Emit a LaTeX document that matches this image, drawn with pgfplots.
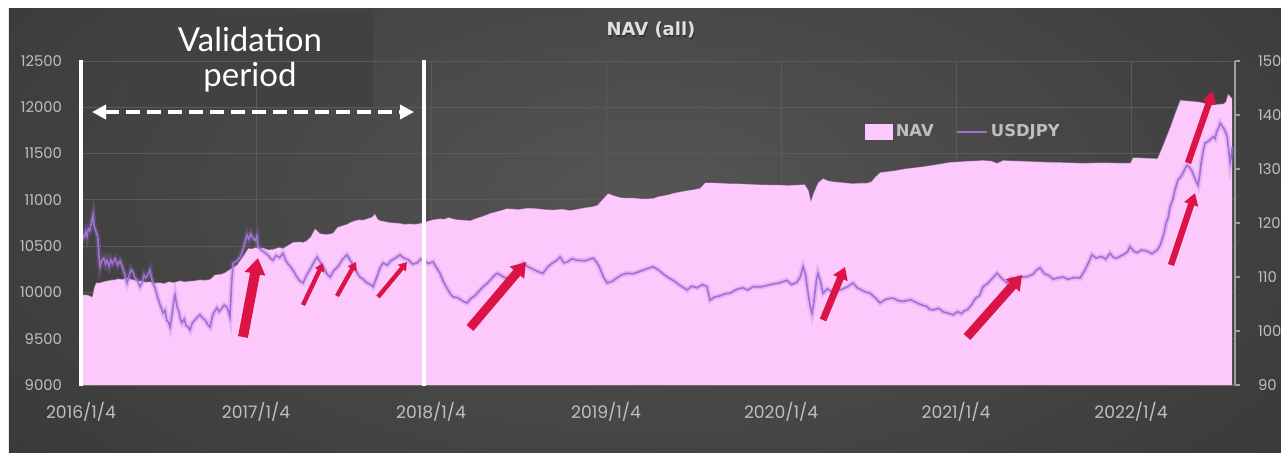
\documentclass[border=0pt]{standalone}
\usepackage{pgfplots}
\pgfplotsset{compat=1.18}
\usepackage{pgfplotstable}
\usepackage{fontspec}
\setmainfont{Poppins}
\newfontfamily\dejavu{DejaVu Sans}
\newfontfamily\lato{Lato}
\usetikzlibrary{arrows.meta}
\definecolor{pinkc}{HTML}{FDC9FD}
\definecolor{jpyc}{HTML}{A070D8}
\definecolor{redc}{HTML}{DC1446}
\definecolor{boxc}{HTML}{414141}
\definecolor{gridc}{HTML}{5A5A5A}
\definecolor{tickc}{HTML}{BFBFBF}
\definecolor{bgout}{HTML}{272727}
\definecolor{bgin}{HTML}{555555}

\pgfplotstableread{
t v
0.000 9980
0.040 9975
0.063 9955
0.075 10060
0.086 10110
0.100 10105
0.120 10115
0.140 10125
0.166 10135
0.190 10140
0.210 10150
0.235 10145
0.263 10160
0.280 10150
0.300 10140
0.325 10130
0.350 10125
0.372 10115
0.394 10120
0.420 10105
0.450 10110
0.475 10100
0.500 10120
0.530 10110
0.566 10130
0.590 10120
0.620 10125
0.650 10130
0.680 10140
0.710 10135
0.737 10145
0.766 10195
0.800 10200
0.820 10215
0.840 10240
0.869 10275
0.890 10300
0.909 10350
0.935 10420
0.954 10480
0.975 10475
1.000 10490
1.020 10480
1.040 10485
1.070 10465
1.100 10470
1.130 10490
1.154 10480
1.180 10510
1.211 10545
1.250 10550
1.270 10545
1.291 10565
1.310 10600
1.337 10695
1.366 10640
1.400 10630
1.420 10635
1.440 10645
1.463 10705
1.500 10730
1.520 10740
1.537 10760
1.560 10775
1.590 10790
1.610 10785
1.634 10800
1.660 10815
1.680 10855
1.695 10800
1.709 10780
1.735 10770
1.760 10760
1.790 10755
1.823 10750
1.850 10740
1.880 10745
1.910 10740
1.937 10750
1.975 10770
2.011 10790
2.051 10800
2.075 10795
2.100 10815
2.125 10800
2.150 10790
2.190 10785
2.223 10780
2.260 10805
2.300 10830
2.340 10860
2.380 10880
2.410 10895
2.434 10910
2.470 10905
2.500 10900
2.550 10915
2.606 10910
2.650 10900
2.700 10895
2.750 10905
2.794 10890
2.840 10905
2.880 10920
2.920 10930
2.949 10945
2.980 11010
3.011 11075
3.045 11050
3.080 11030
3.115 11025
3.150 11025
3.210 11015
3.269 11020
3.300 11040
3.330 11050
3.355 11060
3.383 11075
3.420 11090
3.450 11100
3.500 11115
3.537 11130
3.566 11190
3.610 11190
3.650 11185
3.700 11180
3.749 11180
3.800 11175
3.850 11170
3.900 11168
3.950 11165
4.000 11165
4.034 11160
4.090 11165
4.137 11170
4.160 11100
4.171 11000
4.185 11080
4.211 11190
4.240 11235
4.270 11210
4.300 11200
4.355 11190
4.411 11180
4.450 11185
4.491 11185
4.515 11200
4.537 11250
4.566 11300
4.610 11310
4.650 11320
4.710 11340
4.777 11355
4.820 11365
4.870 11380
4.920 11395
4.966 11410
5.010 11415
5.050 11420
5.100 11425
5.154 11430
5.200 11425
5.234 11400
5.269 11430
5.330 11425
5.400 11420
5.470 11415
5.537 11410
5.600 11408
5.650 11405
5.690 11402
5.726 11400
5.790 11403
5.850 11405
5.920 11402
5.994 11400
6.011 11460
6.045 11458
6.080 11455
6.115 11452
6.149 11450
6.177 11570
6.200 11680
6.223 11790
6.251 11940
6.280 12080
6.310 12075
6.340 12070
6.370 12065
6.394 12060
6.425 12045
6.451 12025
6.490 12035
6.526 12040
6.540 12060
6.554 12150
6.577 12100
}\navtable

\pgfplotstableread{
t v
0.006 118.3
0.013 117.2
0.020 117.6
0.027 118.4
0.034 117.5
0.042 118.9
0.050 118.6
0.060 120.2
0.069 121.5
0.074 119.6
0.080 119.0
0.088 118.2
0.096 117.4
0.102 114.0
0.109 111.9
0.118 113.0
0.130 113.5
0.140 112.4
0.149 113.1
0.160 112.0
0.170 113.2
0.180 112.5
0.195 113.4
0.210 112.2
0.223 113.0
0.235 112.0
0.245 111.0
0.255 109.8
0.263 108.9
0.275 110.2
0.286 111.4
0.297 110.9
0.310 109.7
0.320 109.5
0.337 108.2
0.350 109.0
0.360 110.4
0.370 109.8
0.385 110.6
0.394 111.3
0.402 110.0
0.411 108.9
0.425 107.8
0.440 106.0
0.455 104.6
0.469 103.3
0.480 103.8
0.490 102.0
0.500 101.6
0.509 100.7
0.520 103.0
0.530 105.5
0.537 106.7
0.548 104.6
0.560 103.5
0.568 102.2
0.577 101.5
0.590 102.2
0.600 101.0
0.612 100.8
0.623 100.2
0.636 101.5
0.650 102.0
0.665 102.6
0.680 103.0
0.695 102.4
0.710 102.0
0.724 101.2
0.737 100.7
0.755 103.2
0.777 104.3
0.790 103.6
0.800 104.0
0.818 104.8
0.834 104.4
0.843 103.6
0.851 102.6
0.860 108.5
0.869 112.6
0.889 112.9
0.909 113.7
0.920 114.6
0.930 115.5
0.940 116.8
0.949 117.8
0.960 117.0
0.970 118.0
0.980 117.3
0.995 116.8
1.006 117.6
1.011 115.6
1.030 115.0
1.050 114.5
1.070 114.0
1.085 113.4
1.097 113.1
1.115 114.0
1.135 113.6
1.154 114.4
1.168 113.2
1.180 112.5
1.195 112.0
1.211 111.3
1.230 110.2
1.250 109.3
1.269 108.9
1.290 110.4
1.310 111.5
1.330 112.7
1.349 113.7
1.370 112.6
1.390 111.5
1.405 110.6
1.423 110.0
1.445 111.2
1.470 112.0
1.495 113.3
1.520 114.1
1.540 113.0
1.560 112.0
1.577 110.8
1.594 110.0
1.612 109.6
1.630 109.0
1.650 108.7
1.669 108.2
1.690 110.0
1.710 111.8
1.726 112.6
1.750 112.2
1.770 113.0
1.800 113.6
1.823 114.1
1.845 113.5
1.870 113.2
1.895 112.4
1.920 112.6
1.940 113.3
1.960 113.0
1.985 112.5
2.011 112.8
2.030 111.8
2.051 110.7
2.070 109.2
2.090 108.0
2.110 106.9
2.126 106.3
2.150 106.2
2.170 105.8
2.190 105.4
2.206 105.2
2.230 106.1
2.250 106.5
2.275 107.4
2.297 108.2
2.320 108.8
2.340 109.5
2.360 110.2
2.377 110.7
2.400 110.3
2.425 109.8
2.451 110.0
2.490 111.3
2.526 112.6
2.555 111.9
2.580 111.5
2.610 111.0
2.640 110.7
2.665 111.8
2.690 112.5
2.715 113.0
2.737 113.7
2.760 112.6
2.780 112.8
2.805 113.4
2.834 113.1
2.880 113.0
2.926 113.5
2.945 112.8
2.960 112.0
2.985 110.0
3.006 108.9
3.035 109.2
3.060 109.8
3.090 110.4
3.120 110.7
3.155 110.6
3.190 111.0
3.230 111.5
3.269 111.9
3.300 111.3
3.330 110.5
3.355 109.9
3.383 109.4
3.420 108.5
3.463 107.6
3.490 108.3
3.520 108.0
3.550 108.6
3.577 108.2
3.594 105.7
3.620 106.3
3.650 106.5
3.680 106.9
3.709 107.0
3.745 107.7
3.780 108.0
3.810 107.6
3.840 108.2
3.890 108.2
3.940 108.6
3.990 108.9
4.034 109.4
4.060 108.6
4.090 109.0
4.110 110.0
4.126 111.9
4.140 110.4
4.150 108.0
4.165 104.8
4.177 103.3
4.187 105.2
4.195 107.5
4.203 109.5
4.211 110.7
4.225 109.2
4.240 107.0
4.265 107.8
4.290 107.3
4.315 107.9
4.337 107.6
4.375 108.1
4.411 108.9
4.435 108.0
4.460 107.6
4.485 107.2
4.509 107.0
4.540 106.1
4.566 105.2
4.600 105.9
4.640 106.1
4.670 105.6
4.700 105.5
4.740 105.8
4.777 105.2
4.805 104.8
4.830 104.6
4.850 104.0
4.869 103.9
4.900 104.2
4.930 103.5
4.955 103.3
4.983 103.0
5.010 103.6
5.030 103.2
5.050 103.8
5.063 103.9
5.090 104.9
5.110 106.0
5.135 106.6
5.154 108.2
5.180 108.8
5.200 109.5
5.220 110.2
5.234 110.7
5.260 109.8
5.291 108.9
5.315 109.8
5.340 109.5
5.360 110.0
5.383 110.0
5.410 110.1
5.440 110.5
5.460 111.3
5.480 111.7
5.505 110.6
5.530 110.3
5.555 109.6
5.577 109.8
5.610 110.0
5.640 109.6
5.675 109.9
5.709 109.8
5.740 111.5
5.777 114.1
5.800 113.5
5.830 113.8
5.855 113.3
5.880 114.4
5.900 113.6
5.920 113.5
5.940 113.9
5.960 114.2
5.980 114.7
5.994 115.6
6.015 114.8
6.034 114.5
6.060 115.0
6.090 114.8
6.120 114.3
6.149 115.0
6.165 115.8
6.177 116.9
6.190 118.3
6.200 120.0
6.212 121.0
6.223 123.0
6.238 124.3
6.250 126.0
6.260 127.2
6.269 128.0
6.285 128.6
6.300 129.5
6.310 130.2
6.320 130.7
6.335 130.3
6.350 129.5
6.365 128.2
6.383 127.0
6.392 128.8
6.400 131.0
6.412 133.3
6.423 134.8
6.445 135.2
6.469 136.0
6.480 135.6
6.490 137.0
6.500 137.6
6.509 138.5
6.520 138.0
6.530 137.5
6.540 136.8
6.549 136.0
6.558 133.5
6.566 131.1
6.572 132.2
6.577 134.0
}\jpytable

\begin{document}
\begin{tikzpicture}
% pixel coordinate scope: (px,py) -> image pixels
\begin{scope}[x=0.5pt,y=-0.5pt,shift={(-40.5pt,192.5pt)}]
  \begin{scope}
    \clip (9,8) rectangle (1281,452);
    \fill[bgout] (9,8) rectangle (1281,452);
    \shade[inner color=bgin, outer color=bgout] (650,200) ellipse [x radius=1350, y radius=700];
  \end{scope}
  \fill[boxc] (128,10) rectangle (373,107);
\end{scope}

\begin{axis}[
  at={(0,0)}, anchor=south west,
  scale only axis, width=577pt, height=162pt,
  xmin=0, xmax=6.594, ymin=9000, ymax=12500,
  axis x line*=bottom, axis y line*=left,
  x axis line style={draw=gridc, line width=0.6pt, -},
  y axis line style={draw=none},
  scaled y ticks=false, scaled x ticks=false,
  xtick={0,1,2,3,4,5,6},
  xticklabels={2016/1/4,2017/1/4,2018/1/4,2019/1/4,2020/1/4,2021/1/4,2022/1/4},
  ytick={9000,9500,10000,10500,11000,11500,12000,12500},
  yticklabels={9000,9500,10000,10500,11000,11500,12000,12500},
  major tick length=0pt,
  grid=major, grid style={draw=gridc, line width=0.5pt},
  xticklabel style={font=\fontsize{8.6}{9}\selectfont, text=tickc, yshift=-5pt},
  yticklabel style={font=\fontsize{7.4}{8}\selectfont, text=tickc, xshift=-6pt},
  clip=true,
]
\addplot[fill=pinkc, draw=none] table[x=t,y=v] {\navtable} \closedcycle;
\addplot[draw=black!70!pinkc, line width=0.6pt, opacity=0.6] table[x=t,y=v] {\navtable};
\end{axis}

\begin{axis}[
  at={(0,0)}, anchor=south west,
  scale only axis, width=577pt, height=162pt,
  xmin=0, xmax=6.594, ymin=90, ymax=150,
  axis x line=none, axis y line*=right,
  y axis line style={draw=gray!75, line width=0.6pt, -},
  scaled y ticks=false,
  ytick={90,100,110,120,130,140,150},
  yticklabels={90,100,110,120,130,140,150},
  tick style={draw=gray!75, line width=0.6pt},
  tick align=outside, major tick length=2.5pt,
  yticklabel style={font=\fontsize{7.4}{8}\selectfont, text=tickc, xshift=5.5pt},
  legend style={at={(0.765,0.781)}, anchor=center, draw=none, fill=none,
    font=\dejavu\bfseries\fontsize{8.2}{9}\selectfont, text=tickc,
    /tikz/every even column/.append style={column sep=10pt},
    nodes={inner sep=1.5pt}},
  legend columns=2,
  clip=true,
]
\addlegendimage{legend image code/.code={\fill[pinkc] (0pt,-3.75pt) rectangle (13.5pt,3.75pt);}}
\addlegendentry{NAV}
\addplot[draw=jpyc, line width=2.6pt, opacity=0.25, forget plot] table[x=t,y=v] {\jpytable};
\addplot[draw=jpyc, line width=0.8pt, legend image code/.code={\draw[jpyc, line width=0.6pt] (0pt,0pt) -- (15pt,0pt);}] table[x=t,y=v] {\jpytable};
\addlegendentry{USDJPY}
\end{axis}

\begin{scope}[x=0.5pt,y=-0.5pt,shift={(-40.5pt,192.5pt)}]
  % title
  \node[text=black!80, font=\dejavu\bfseries\fontsize{9}{10}\selectfont] at (652,32) {NAV (all)};
  \node[text=white!88!black, font=\dejavu\bfseries\fontsize{9}{10}\selectfont] at (651,30) {NAV (all)};
  % validation period
  \node[text=white, font=\lato\fontsize{16.5}{18}\selectfont] at (250,39) {Validation};
  \node[text=white, font=\lato\fontsize{16.5}{18}\selectfont] at (250,77) {period};
  \draw[white, line width=1.6pt] (81,60) -- (81,386);
  \draw[white, line width=1.6pt] (424,60) -- (424,386);
  \draw[white, line width=2pt, dash pattern=on 7pt off 3.5pt, {Triangle[width=7pt,length=7pt]}-{Triangle[width=7pt,length=7pt]}] (92,112) -- (414,112);
  % red arrows
  \draw[redc, line width=5pt, -{Triangle[width=10pt,length=8pt]}] (243,337) -- (258,258);
  \draw[redc, line width=2.2pt, -{Triangle[width=5pt,length=4pt]}] (303,305) -- (323,263);
  \draw[redc, line width=2.2pt, -{Triangle[width=5pt,length=4pt]}] (337,296) -- (356,262);
  \draw[redc, line width=2.2pt, -{Triangle[width=5pt,length=4pt]}] (378,297) -- (407,262);
  \draw[redc, line width=4.5pt, -{Triangle[width=9pt,length=7pt]}] (470,328) -- (526,262);
  \draw[redc, line width=3.5pt, -{Triangle[width=7.5pt,length=6pt]}] (823,320) -- (845,267);
  \draw[redc, line width=4.5pt, -{Triangle[width=9pt,length=7pt]}] (967,337) -- (1022,275);
  \draw[redc, line width=3.2pt, -{Triangle[width=7pt,length=6pt]}] (1171,265) -- (1195,193);
  \draw[redc, line width=3.2pt, -{Triangle[width=7pt,length=6pt]}] (1188,163) -- (1213,91);
  \pgfresetboundingbox
  \path[use as bounding box] (0,0) rectangle (1281,452);
\end{scope}
\end{tikzpicture}
\end{document}
